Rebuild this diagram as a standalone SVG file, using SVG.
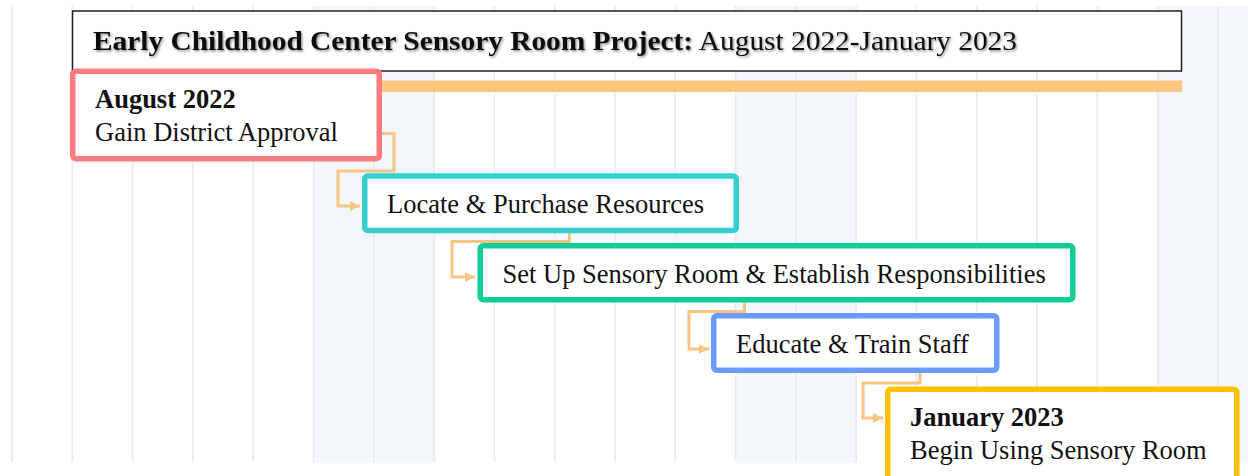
<svg xmlns="http://www.w3.org/2000/svg" width="1248" height="476" viewBox="0 0 1248 476">
  <defs>
    <style>
      .grid { stroke: #e8eaee; stroke-width: 1.6; }
      .band { fill: #f3f6fb; }
      .box { fill: #ffffff; stroke-width: 5.5; }
      .lbl { font-family: "Liberation Serif", "Times New Roman", serif; font-size: 26.5px; fill: #111111; }
      .b { font-weight: bold; }
      .link { fill: none; stroke: #f8c684; stroke-width: 3; stroke-linejoin: miter; }
    </style>
    <marker id="arrow" viewBox="0 0 10 10" refX="10" refY="5" markerWidth="10" markerHeight="10" markerUnits="userSpaceOnUse" orient="auto">
      <path d="M0,0 L10,5 L0,10 z" fill="#f8c684"/>
    </marker>
    <filter id="shadow" x="-5%" y="-30%" width="110%" height="160%">
      <feDropShadow dx="1.2" dy="1.5" stdDeviation="1" flood-color="#000000" flood-opacity="0.45"/>
    </filter>
  </defs>

  <!-- timeline backdrop: weekend bands and day columns -->
  <g id="backdrop">
    <rect x="0" y="0" width="1248" height="476" fill="#ffffff"/>
    <rect class="band" x="313.5" y="6" width="120.6" height="456"/>
    <rect class="band" x="735.6" y="6" width="120.6" height="456"/>
    <rect class="band" x="1157.7" y="6" width="90.3" height="456"/>
    <g class="grid">
      <line x1="12" y1="6" x2="12" y2="462"/>
      <line x1="72.3" y1="6" x2="72.3" y2="462"/>
      <line x1="132.6" y1="6" x2="132.6" y2="462"/>
      <line x1="192.9" y1="6" x2="192.9" y2="462"/>
      <line x1="253.2" y1="6" x2="253.2" y2="462"/>
      <line x1="313.5" y1="6" x2="313.5" y2="462"/>
      <line x1="373.8" y1="6" x2="373.8" y2="462"/>
      <line x1="434.1" y1="6" x2="434.1" y2="462"/>
      <line x1="494.4" y1="6" x2="494.4" y2="462"/>
      <line x1="554.7" y1="6" x2="554.7" y2="462"/>
      <line x1="615" y1="6" x2="615" y2="462"/>
      <line x1="675.3" y1="6" x2="675.3" y2="462"/>
      <line x1="735.6" y1="6" x2="735.6" y2="462"/>
      <line x1="795.9" y1="6" x2="795.9" y2="462"/>
      <line x1="856.2" y1="6" x2="856.2" y2="462"/>
      <line x1="916.5" y1="6" x2="916.5" y2="462"/>
      <line x1="976.8" y1="6" x2="976.8" y2="462"/>
      <line x1="1037.1" y1="6" x2="1037.1" y2="462"/>
      <line x1="1097.4" y1="6" x2="1097.4" y2="462"/>
      <line x1="1157.7" y1="6" x2="1157.7" y2="462"/>
      <line x1="1218" y1="6" x2="1218" y2="462"/>
    </g>
  </g>

  <!-- header -->
  <g id="title">
    <rect x="72.5" y="11" width="1109" height="60" fill="#ffffff" stroke="#222222" stroke-width="1.5"/>
    <text class="lbl" x="93" y="50" font-size="31" textLength="924" lengthAdjust="spacingAndGlyphs" filter="url(#shadow)"><tspan class="b">Early Childhood Center Sensory Room Project:</tspan> August 2022-January 2023</text>
  </g>

  <!-- overall project span -->
  <g id="project-bar">
    <rect x="372" y="80.5" width="810" height="11.5" fill="#fdc67f"/>
  </g>

  <!-- dependency links -->
  <g id="connectors">
    <path class="link" d="M382,133.5 H394 V171 H338 V206 H360" marker-end="url(#arrow)"/>
    <path class="link" d="M569.5,233 V241.5 H452 V277 H475" marker-end="url(#arrow)"/>
    <path class="link" d="M744.5,302 V311.5 H689 V349 H709" marker-end="url(#arrow)"/>
    <path class="link" d="M920,373 V383 H863 V418 H883" marker-end="url(#arrow)"/>
  </g>

  <g id="approval">
    <rect class="box" x="72.75" y="71.25" width="306.5" height="87.5" rx="3" stroke="#ff7b7e"/>
    <text class="lbl b" x="95" y="108">August 2022</text>
    <text class="lbl" x="95" y="141">Gain District Approval</text>
  </g>

  <g id="resources">
    <rect class="box" x="364.75" y="176" width="371.5" height="54.5" rx="3" stroke="#36cfcf"/>
    <text class="lbl" x="387" y="213">Locate &amp; Purchase Resources</text>
  </g>

  <g id="setup">
    <rect class="box" x="480.25" y="245.75" width="592.5" height="54" rx="3" stroke="#10cc96"/>
    <text class="lbl" x="502.5" y="283">Set Up Sensory Room &amp; Establish Responsibilities</text>
  </g>

  <g id="training">
    <rect class="box" x="713.75" y="315.75" width="283" height="54.5" rx="3" stroke="#6b9bff"/>
    <text class="lbl" x="736" y="353">Educate &amp; Train Staff</text>
  </g>

  <g id="launch">
    <rect class="box" x="887.75" y="389.25" width="349" height="110" rx="3" stroke="#ffc000"/>
    <text class="lbl b" x="910" y="426">January 2023</text>
    <text class="lbl" x="910" y="459">Begin Using Sensory Room</text>
  </g>
</svg>
